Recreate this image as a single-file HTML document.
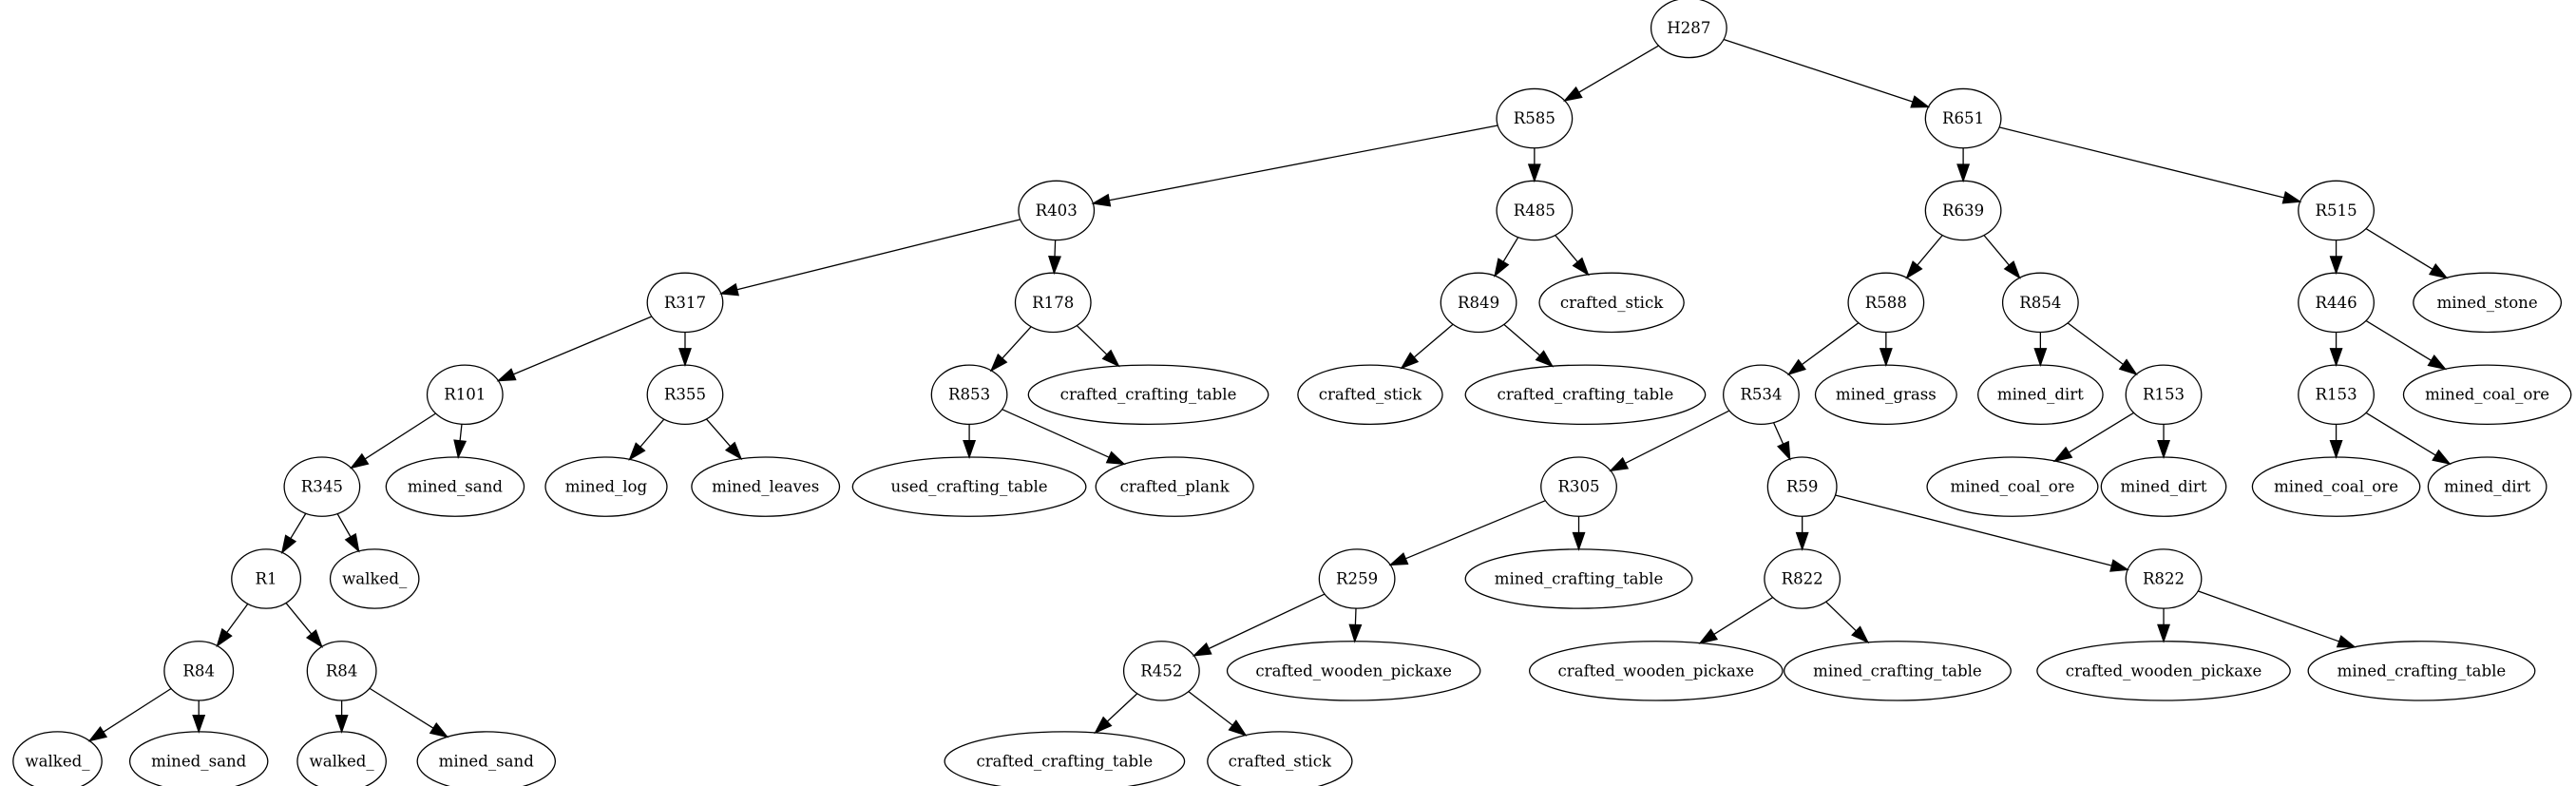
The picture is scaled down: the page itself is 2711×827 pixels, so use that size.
<!DOCTYPE html>
<html><head><meta charset="utf-8"><style>
html,body{margin:0;padding:0;background:#fff;}
svg{display:block}
text{font-family:"DejaVu Serif","Liberation Serif",serif;font-size:9.6px;text-anchor:middle;dominant-baseline:central;fill:#000}
ellipse{fill:none;stroke:#000;stroke-width:0.75}
</style></head><body>
<svg id="g" width="2711" height="827" viewBox="0 0 1568 478" preserveAspectRatio="none" xmlns="http://www.w3.org/2000/svg">
<g id="edges"></g>
<g id="nodes">
<ellipse cx="1028" cy="17" rx="23" ry="18"/><text x="1028" y="17">H287</text>
<ellipse cx="934" cy="72" rx="23" ry="18"/><text x="934" y="72">R585</text>
<ellipse cx="1195" cy="72" rx="23" ry="18"/><text x="1195" y="72">R651</text>
<ellipse cx="643" cy="128" rx="23" ry="18"/><text x="643" y="128">R403</text>
<ellipse cx="934" cy="128" rx="23" ry="18"/><text x="934" y="128">R485</text>
<ellipse cx="1195" cy="128" rx="23" ry="18"/><text x="1195" y="128">R639</text>
<ellipse cx="1422" cy="128" rx="23" ry="18"/><text x="1422" y="128">R515</text>
<ellipse cx="417" cy="184" rx="23" ry="18"/><text x="417" y="184">R317</text>
<ellipse cx="641" cy="184" rx="23" ry="18"/><text x="641" y="184">R178</text>
<ellipse cx="900" cy="184" rx="23" ry="18"/><text x="900" y="184">R849</text>
<ellipse cx="981" cy="184" rx="44" ry="18"/><text x="981" y="184">crafted_stick</text>
<ellipse cx="1148" cy="184" rx="23" ry="18"/><text x="1148" y="184">R588</text>
<ellipse cx="1242" cy="184" rx="23" ry="18"/><text x="1242" y="184">R854</text>
<ellipse cx="1422" cy="184" rx="23" ry="18"/><text x="1422" y="184">R446</text>
<ellipse cx="1514" cy="184" rx="45" ry="18"/><text x="1514" y="184">mined_stone</text>
<ellipse cx="283" cy="240" rx="23" ry="18"/><text x="283" y="240">R101</text>
<ellipse cx="417" cy="240" rx="23" ry="18"/><text x="417" y="240">R355</text>
<ellipse cx="590" cy="240" rx="23" ry="18"/><text x="590" y="240">R853</text>
<ellipse cx="699" cy="240" rx="73" ry="18"/><text x="699" y="240">crafted_crafting_table</text>
<ellipse cx="834" cy="240" rx="44" ry="18"/><text x="834" y="240">crafted_stick</text>
<ellipse cx="965" cy="240" rx="73" ry="18"/><text x="965" y="240">crafted_crafting_table</text>
<ellipse cx="1072" cy="240" rx="23" ry="18"/><text x="1072" y="240">R534</text>
<ellipse cx="1148" cy="240" rx="43" ry="18"/><text x="1148" y="240">mined_grass</text>
<ellipse cx="1242" cy="240" rx="38" ry="18"/><text x="1242" y="240">mined_dirt</text>
<ellipse cx="1317" cy="240" rx="23" ry="18"/><text x="1317" y="240">R153</text>
<ellipse cx="1422" cy="240" rx="23" ry="18"/><text x="1422" y="240">R153</text>
<ellipse cx="1514" cy="240" rx="51" ry="18"/><text x="1514" y="240">mined_coal_ore</text>
<ellipse cx="196" cy="296" rx="23" ry="18"/><text x="196" y="296">R345</text>
<ellipse cx="277" cy="296" rx="42" ry="18"/><text x="277" y="296">mined_sand</text>
<ellipse cx="369" cy="296" rx="37" ry="18"/><text x="369" y="296">mined_log</text>
<ellipse cx="466" cy="296" rx="45" ry="18"/><text x="466" y="296">mined_leaves</text>
<ellipse cx="590" cy="296" rx="71" ry="18"/><text x="590" y="296">used_crafting_table</text>
<ellipse cx="715" cy="296" rx="48" ry="18"/><text x="715" y="296">crafted_plank</text>
<ellipse cx="961" cy="296" rx="23" ry="18"/><text x="961" y="296">R305</text>
<ellipse cx="1097" cy="296" rx="21" ry="18"/><text x="1097" y="296">R59</text>
<ellipse cx="1225" cy="296" rx="52" ry="18"/><text x="1225" y="296">mined_coal_ore</text>
<ellipse cx="1317" cy="296" rx="38" ry="18"/><text x="1317" y="296">mined_dirt</text>
<ellipse cx="1422" cy="296" rx="51" ry="18"/><text x="1422" y="296">mined_coal_ore</text>
<ellipse cx="1514" cy="296" rx="36" ry="18"/><text x="1514" y="296">mined_dirt</text>
<ellipse cx="162" cy="352" rx="21" ry="18"/><text x="162" y="352">R1</text>
<ellipse cx="228" cy="352" rx="27" ry="18"/><text x="228" y="352">walked_</text>
<ellipse cx="826" cy="352" rx="23" ry="18"/><text x="826" y="352">R259</text>
<ellipse cx="961" cy="352" rx="69" ry="18"/><text x="961" y="352">mined_crafting_table</text>
<ellipse cx="1097" cy="352" rx="23" ry="18"/><text x="1097" y="352">R822</text>
<ellipse cx="1317" cy="352" rx="23" ry="18"/><text x="1317" y="352">R822</text>
<ellipse cx="121" cy="408" rx="21" ry="18"/><text x="121" y="408">R84</text>
<ellipse cx="208" cy="408" rx="21" ry="18"/><text x="208" y="408">R84</text>
<ellipse cx="707" cy="408" rx="23" ry="18"/><text x="707" y="408">R452</text>
<ellipse cx="824" cy="408" rx="77" ry="18"/><text x="824" y="408">crafted_wooden_pickaxe</text>
<ellipse cx="1008" cy="408" rx="77" ry="18"/><text x="1008" y="408">crafted_wooden_pickaxe</text>
<ellipse cx="1155" cy="408" rx="69" ry="18"/><text x="1155" y="408">mined_crafting_table</text>
<ellipse cx="1317" cy="408" rx="77" ry="18"/><text x="1317" y="408">crafted_wooden_pickaxe</text>
<ellipse cx="1474" cy="408" rx="69" ry="18"/><text x="1474" y="408">mined_crafting_table</text>
<ellipse cx="35" cy="463" rx="27" ry="18"/><text x="35" y="463">walked_</text>
<ellipse cx="121" cy="463" rx="42" ry="18"/><text x="121" y="463">mined_sand</text>
<ellipse cx="208" cy="463" rx="27" ry="18"/><text x="208" y="463">walked_</text>
<ellipse cx="296" cy="463" rx="42" ry="18"/><text x="296" y="463">mined_sand</text>
<ellipse cx="648" cy="463" rx="73" ry="18"/><text x="648" y="463">crafted_crafting_table</text>
<ellipse cx="779" cy="463" rx="44" ry="18"/><text x="779" y="463">crafted_stick</text>
</g>
</svg>
<script>
(function(){
var els=document.querySelectorAll('#nodes ellipse');
var N=[];els.forEach(function(e){N.push({x:+e.getAttribute('cx'),y:+e.getAttribute('cy'),rx:+e.getAttribute('rx'),ry:18});});
function find(x,y){for(var i=0;i<N.length;i++)if(N[i].x==x&&N[i].y==y)return N[i];}
var E=[[1028,17,934,72],[1028,17,1195,72],[934,72,643,128],[934,72,934,128],[1195,72,1195,128],[1195,72,1422,128],
[643,128,417,184],[643,128,641,184],[934,128,900,184],[934,128,981,184],[1195,128,1148,184],[1195,128,1242,184],[1422,128,1422,184],[1422,128,1514,184],
[417,184,283,240],[417,184,417,240],[641,184,590,240],[641,184,699,240],[900,184,834,240],[900,184,965,240],[1148,184,1072,240],[1148,184,1148,240],[1242,184,1242,240],[1242,184,1317,240],[1422,184,1422,240],[1422,184,1514,240],
[283,240,196,296],[283,240,277,296],[417,240,369,296],[417,240,466,296],[590,240,590,296],[590,240,715,296],[1072,240,961,296],[1072,240,1097,296],[1317,240,1225,296],[1317,240,1317,296],[1422,240,1422,296],[1422,240,1514,296],
[196,296,162,352],[196,296,228,352],[961,296,826,352],[961,296,961,352],[1097,296,1097,352],[1097,296,1317,352],
[162,352,121,408],[162,352,208,408],[826,352,707,408],[826,352,824,408],[1097,352,1008,408],[1097,352,1155,408],[1317,352,1317,408],[1317,352,1474,408],
[121,408,35,463],[121,408,121,463],[208,408,208,463],[208,408,296,463],[707,408,648,463],[707,408,779,463]];
function clip(n,dx,dy){var t=1/Math.sqrt(dx*dx/(n.rx*n.rx)+dy*dy/(n.ry*n.ry));return [n.x+dx*t,n.y+dy*t];}
var g=document.getElementById('edges'),h='';
E.forEach(function(e){var a=find(e[0],e[1]),b=find(e[2],e[3]);var dx=b.x-a.x,dy=b.y-a.y;
var p=clip(a,dx,dy),q=clip(b,-dx,-dy);var L=Math.hypot(q[0]-p[0],q[1]-p[1]);var ux=(q[0]-p[0])/L,uy=(q[1]-p[1])/L;
var al=10,aw=3.5;var bx=q[0]-ux*al,by=q[1]-uy*al;
h+='<line x1="'+p[0]+'" y1="'+p[1]+'" x2="'+bx+'" y2="'+by+'" stroke="#000" stroke-width="0.75"/>';
h+='<polygon points="'+q[0]+','+q[1]+' '+(bx-uy*aw)+','+(by+ux*aw)+' '+(bx+uy*aw)+','+(by-ux*aw)+'" fill="#000" stroke="#000" stroke-width="0.75"/>';});
g.innerHTML=h;
})();
</script>
</body></html>
